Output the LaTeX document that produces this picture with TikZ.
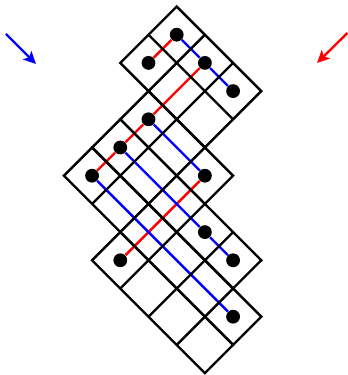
\documentclass[tikz,border=0pt]{standalone}
\usetikzlibrary{arrows.meta}

\begin{document}
\begin{tikzpicture}[
  ball/.style={circle, fill=black, inner sep=0pt, minimum size=2.45mm},
  cellgrid/.style={line width=1.2pt, line cap=rect},
  redp/.style={red, line width=1.2pt},
  bluep/.style={blue, line width=1.2pt},
  arr/.style={-{Stealth[length=2.2mm, width=2.1mm, inset=0.5mm]}, line width=1.2pt}
]
  \useasboundingbox (-3.133,0.115) rectangle (3.037,-6.534);

  % arrows for the two directions
  \coordinate (bluestart) at (-3.027,-0.488);
  \coordinate (blueend)   at (-2.495,-1.020);
  \coordinate (redstart)  at (3.027,-0.470);
  \coordinate (redend)    at (2.488,-1.002);
  \draw[arr, blue] (bluestart) -- (blueend);
  \draw[arr, red]  (redstart) -- (redend);

  \begin{scope}[rotate=-45, scale=0.7071]
    % dots, named by cell
    \node[ball] (d00) at (0.5,-0.5) {};
    \node[ball] (d01) at (0.5,-1.5) {};
    \node[ball] (d10) at (1.5,-0.5) {};
    \node[ball] (d20) at (2.5,-0.5) {};
    \node[ball] (d12) at (1.5,-2.5) {};
    \node[ball] (d13) at (1.5,-3.5) {};
    \node[ball] (d14) at (1.5,-4.5) {};
    \node[ball] (d32) at (3.5,-2.5) {};
    \node[ball] (d43) at (4.5,-3.5) {};
    \node[ball] (d53) at (5.5,-3.5) {};
    \node[ball] (d35) at (3.5,-5.5) {};
    \node[ball] (d64) at (6.5,-4.5) {};

    % red paths
    \draw[redp] (d01) -- (d00);
    \draw[redp] (d10) -- (d12) -- (d13) -- (d14);
    \draw[redp] (d32) -- (d35);

    % blue paths
    \draw[bluep] (d00) -- (d10) -- (d20);
    \draw[bluep] (d12) -- (d32);
    \draw[bluep] (d13) -- (d43) -- (d53);
    \draw[bluep] (d14) -- (d64);

    % the cells, row by row
    \draw[cellgrid] (0,0) grid (3,-2);
    \draw[cellgrid] (1,-2) grid (4,-3);
    \draw[cellgrid] (1,-3) grid (6,-4);
    \draw[cellgrid] (1,-4) grid (7,-5);
    \draw[cellgrid] (3,-5) grid (7,-6);
  \end{scope}
\end{tikzpicture}
\end{document}
